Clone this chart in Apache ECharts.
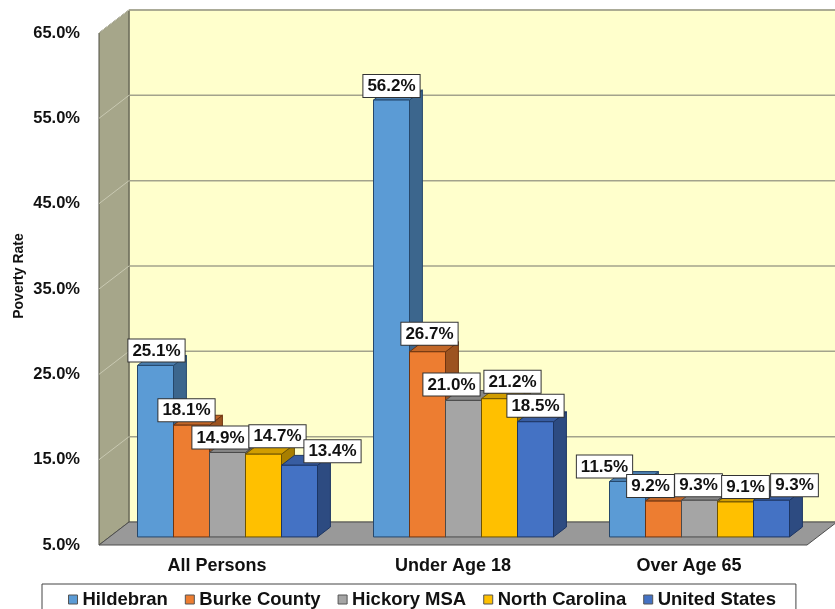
<!DOCTYPE html>
<html>
<head>
<meta charset="utf-8">
<script src="https://cdn.jsdelivr.net/npm/echarts@6/dist/echarts.min.js"></script>
<style>
html,body{margin:0;padding:0;background:#fff;}
#chart{width:835px;height:609px;}
</style>
</head>
<body>
<div id="chart"></div>
<script>
// ---------- data ----------
const CATEGORIES = ['All Persons', 'Under Age 18', 'Over Age 65'];
const SERIES_NAMES = ['Hildebran', 'Burke County', 'Hickory MSA', 'North Carolina', 'United States'];
const HILDEBRAN = [25.1, 56.2, 11.5];
const BURKE_COUNTY = [18.1, 26.7, 9.2];
const HICKORY_MSA = [14.9, 21.0, 9.3];
const NORTH_CAROLINA = [14.7, 21.2, 9.1];
const UNITED_STATES = [13.4, 18.5, 9.3];
const Y_TICKS = [5, 15, 25, 35, 45, 55, 65];

// ---------- style / layout ----------
const VALUES = [HILDEBRAN, BURKE_COUNTY, HICKORY_MSA, NORTH_CAROLINA, UNITED_STATES];
const COLORS = ['#5B9BD5', '#ED7D31', '#A5A5A5', '#FFC000', '#4472C4'];
const OUTLINES = ['#25476b', '#6e3410', '#4a4a4a', '#6e5300', '#1c3563'];
const FONT = '"Liberation Sans", Arial, Helvetica, sans-serif';
const WALL = { dx: 30, dy: -23 };          // depth of the 3D box
const BAR_FRONT = 0.35, BAR_BACK = 0.78;   // bar depth position as fraction of wall depth
const BAR_FRAC = 36 / 236;                 // bar width as fraction of category band
// label nudges (pixels) relative to bar front-top centre
const LABEL_DX = [[1, 0, -23], [-5, 2, -13], [-7, -12, -1], [14, 13, 10], [33, 0, 23]];
const LABEL_DY = [[-4, -3, -4], [-4, -7, -4], [-4, -5, -4], [-7, -6, -4], [-3, -5, -4]];

function shade(hex, f) {
  const n = parseInt(hex.slice(1), 16);
  const r = Math.round(((n >> 16) & 255) * f), g = Math.round(((n >> 8) & 255) * f), b = Math.round((n & 255) * f);
  return 'rgb(' + r + ',' + g + ',' + b + ')';
}

const chart = echarts.init(document.getElementById('chart'), null, { renderer: 'canvas' });

function frameRender(params, api) {
  const cs = params.coordSys;
  const L = cs.x, R = cs.x + cs.width;
  const B = api.coord([0, Y_TICKS[0]])[1];
  const T = api.coord([0, Y_TICKS[Y_TICKS.length - 1]])[1];
  const dx = WALL.dx, dy = WALL.dy;
  const children = [];
  children.push({ type: 'rect', shape: { x: L + dx, y: T + dy, width: R - L + 10, height: B - T },
    style: { fill: '#FFFFCC', stroke: '#8c8c7a', lineWidth: 1 } });
  children.push({ type: 'polygon', shape: { points: [[L, T], [L + dx, T + dy], [L + dx, B + dy], [L, B]] },
    style: { fill: '#A6A68A', stroke: '#4d4d40', lineWidth: 1 } });
  Y_TICKS.forEach(function (v, k) {
    if (k === 0) return;
    const y = api.coord([0, v])[1];
    children.push({ type: 'line', shape: { x1: L, y1: y, x2: L + dx, y2: y + dy },
      style: { stroke: '#c9c9b2', lineWidth: 1 } });
    children.push({ type: 'line', shape: { x1: L + dx, y1: y + dy, x2: R + dx + 10, y2: y + dy },
      style: { stroke: '#a3a38c', lineWidth: 1.5 } });
  });
  children.push({ type: 'polygon', shape: { points: [[L, B], [L + dx, B + dy], [R + dx, B + dy], [R, B]] },
    style: { fill: '#999999', stroke: '#4d4d4d', lineWidth: 1 } });
  return { type: 'group', children: children };
}

function makeBarRender(si) {
  return function (params, api) {
    const cat = api.value(0), val = api.value(1);
    const base = api.coord([cat, Y_TICKS[0]]);
    const top = api.coord([cat, val]);
    const band = api.size([1, 0])[0];
    const bw = band * BAR_FRAC;
    const cx = base[0] + (si - 2) * bw;
    const fx = WALL.dx * BAR_FRONT, fy = WALL.dy * BAR_FRONT;
    const ddx = WALL.dx * (BAR_BACK - BAR_FRONT), ddy = WALL.dy * (BAR_BACK - BAR_FRONT);
    const x0 = cx - bw / 2 + fx, x1 = cx + bw / 2 + fx;
    const y0 = top[1] + fy, y1 = base[1] + fy;
    const col = COLORS[si], ol = OUTLINES[si];
    const j = params.dataIndex;
    return { type: 'group', children: [
      { type: 'polygon', shape: { points: [[x1, y0], [x1 + ddx, y0 + ddy], [x1 + ddx, y1 + ddy], [x1, y1]] },
        style: { fill: shade(col, 0.66), stroke: ol, lineWidth: 1 } },
      { type: 'polygon', shape: { points: [[x0, y0], [x1, y0], [x1 + ddx, y0 + ddy], [x0 + ddx, y0 + ddy]] },
        style: { fill: shade(col, 0.82), stroke: ol, lineWidth: 1 } },
      { type: 'rect', shape: { x: x0, y: y0, width: x1 - x0, height: y1 - y0 },
        style: { fill: col, stroke: ol, lineWidth: 1 } },
      { type: 'text', z2: 100,
        x: cx + fx + LABEL_DX[si][j], y: y0 + LABEL_DY[si][j],
        style: { text: val.toFixed(1) + '%', align: 'center', verticalAlign: 'bottom',
          font: 'bold 17px ' + FONT, fill: '#111',
          backgroundColor: '#ffffff', borderColor: '#333333', borderWidth: 1,
          padding: [3, 4, 2, 4] } }
    ] };
  };
}

const series = [{
  type: 'custom', name: 'frame', silent: true, clip: false, z: 1,
  renderItem: frameRender, data: [[0, 5]]
}];
SERIES_NAMES.forEach(function (name, si) {
  series.push({
    type: 'custom', name: name, clip: false, z: 2,
    itemStyle: { color: COLORS[si] },
    renderItem: makeBarRender(si),
    data: VALUES[si].map(function (v, j) { return [j, v]; })
  });
});

chart.setOption({
  animation: false,
  grid: { left: 99, right: 28, top: 33, bottom: 64 },
  xAxis: {
    type: 'category', data: CATEGORIES,
    axisLine: { show: false }, axisTick: { show: false }, splitLine: { show: false },
    axisLabel: { margin: 12, color: '#111', fontWeight: 'bold', fontSize: 18, fontFamily: FONT }
  },
  yAxis: {
    type: 'value', min: 5, max: 65, interval: 10,
    axisLine: { show: false }, axisTick: { show: false }, splitLine: { show: false },
    axisLabel: { margin: 19, color: '#111', fontWeight: 'bold', fontSize: 16.5, fontFamily: FONT,
      formatter: function (v) { return v.toFixed(1) + '%'; } }
  },
  legend: {
    data: SERIES_NAMES, left: 42, top: 584,
    icon: 'rect', itemWidth: 9, itemHeight: 9, itemGap: 17,
    itemStyle: { borderColor: '#555', borderWidth: 1 },
    padding: [6, 20, 8, 26],
    borderColor: '#444', borderWidth: 1, backgroundColor: '#fff',
    textStyle: { color: '#111', fontWeight: 'bold', fontSize: 18.5, fontFamily: FONT }
  },
  graphic: [{
    type: 'text', x: 19, y: 276, rotation: Math.PI / 2,
    style: { text: 'Poverty Rate', align: 'center', verticalAlign: 'middle',
      font: 'bold 14px ' + FONT, fill: '#111' }
  }],
  series: series
});
</script>
</body>
</html>
